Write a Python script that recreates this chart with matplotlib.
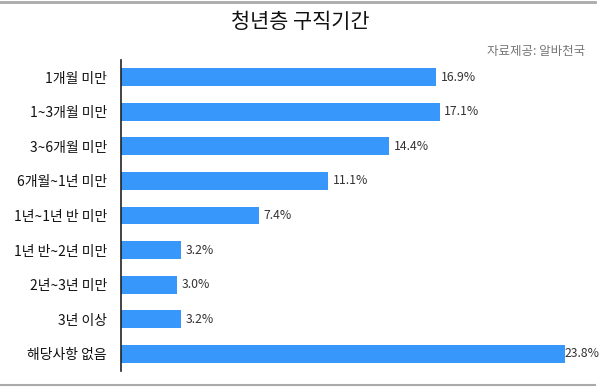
import matplotlib
matplotlib.use("Agg")
import matplotlib.pyplot as plt
from matplotlib.lines import Line2D

plt.rcParams["font.family"] = ["Noto Sans CJK KR", "DejaVu Sans"]

categories = ["1개월 미만", "1~3개월 미만", "3~6개월 미만", "6개월~1년 미만",
              "1년~1년 반 미만", "1년 반~2년 미만", "2년~3년 미만", "3년 이상", "해당사항 없음"]
values = [16.9, 17.1, 14.4, 11.1, 7.4, 3.2, 3.0, 3.2, 23.8]
value_labels = ["16.9%", "17.1%", "14.4%", "11.1%", "7.4%", "3.2%", "3.0%", "3.2%", "23.8%"]

W, H = 600, 388
fig = plt.figure(figsize=(W / 100, H / 100), dpi=100)
fig.patch.set_facecolor("white")

# axes placed in pixel terms
left, right, top, bottom = 121, 600, 60, 371
ax = fig.add_axes([left / W, (H - bottom) / H, (right - left) / W, (bottom - top) / H])

y = list(range(len(categories)))
ax.barh(y, values, height=0.52, color="#3797fa")
ax.set_ylim(len(categories) - 0.5, -0.5)
ax.set_xlim(0, 25.7)

vmax = max(values)
for yi, v, lab in zip(y, values, value_labels):
    # the longest bar's label sits flush against the bar end, as in the original
    off = 0.0 if v == vmax else 0.25
    ax.text(v + off, yi, lab, va="center", ha="left", fontsize=8.8, color="#333333")

ax.set_yticks(y)
ax.set_yticklabels(categories, fontsize=10, color="#111111")
ax.tick_params(axis="y", length=0, pad=10)
ax.set_xticks([])
for s in ["top", "right", "bottom"]:
    ax.spines[s].set_visible(False)
ax.spines["left"].set_color("#222222")
ax.spines["left"].set_linewidth(1.2)

fig.text(0.5, 1 - 22 / H, "청년층 구직기간", ha="center", va="center", fontsize=15, color="#111111")
fig.text(585 / W, 1 - 51 / H, "자료제공: 알바천국", ha="right", va="center", fontsize=9, color="#777777")

# thin gray frame lines at top and bottom
fig.add_artist(Line2D([0, 595 / W], [1 - 1.5 / H, 1 - 1.5 / H], color="#aaaaaa", lw=2, transform=fig.transFigure))
fig.add_artist(Line2D([0, 595 / W], [1 - 385 / H, 1 - 385 / H], color="#aaaaaa", lw=1.5, transform=fig.transFigure))

fig.savefig("out.png", dpi=100)
